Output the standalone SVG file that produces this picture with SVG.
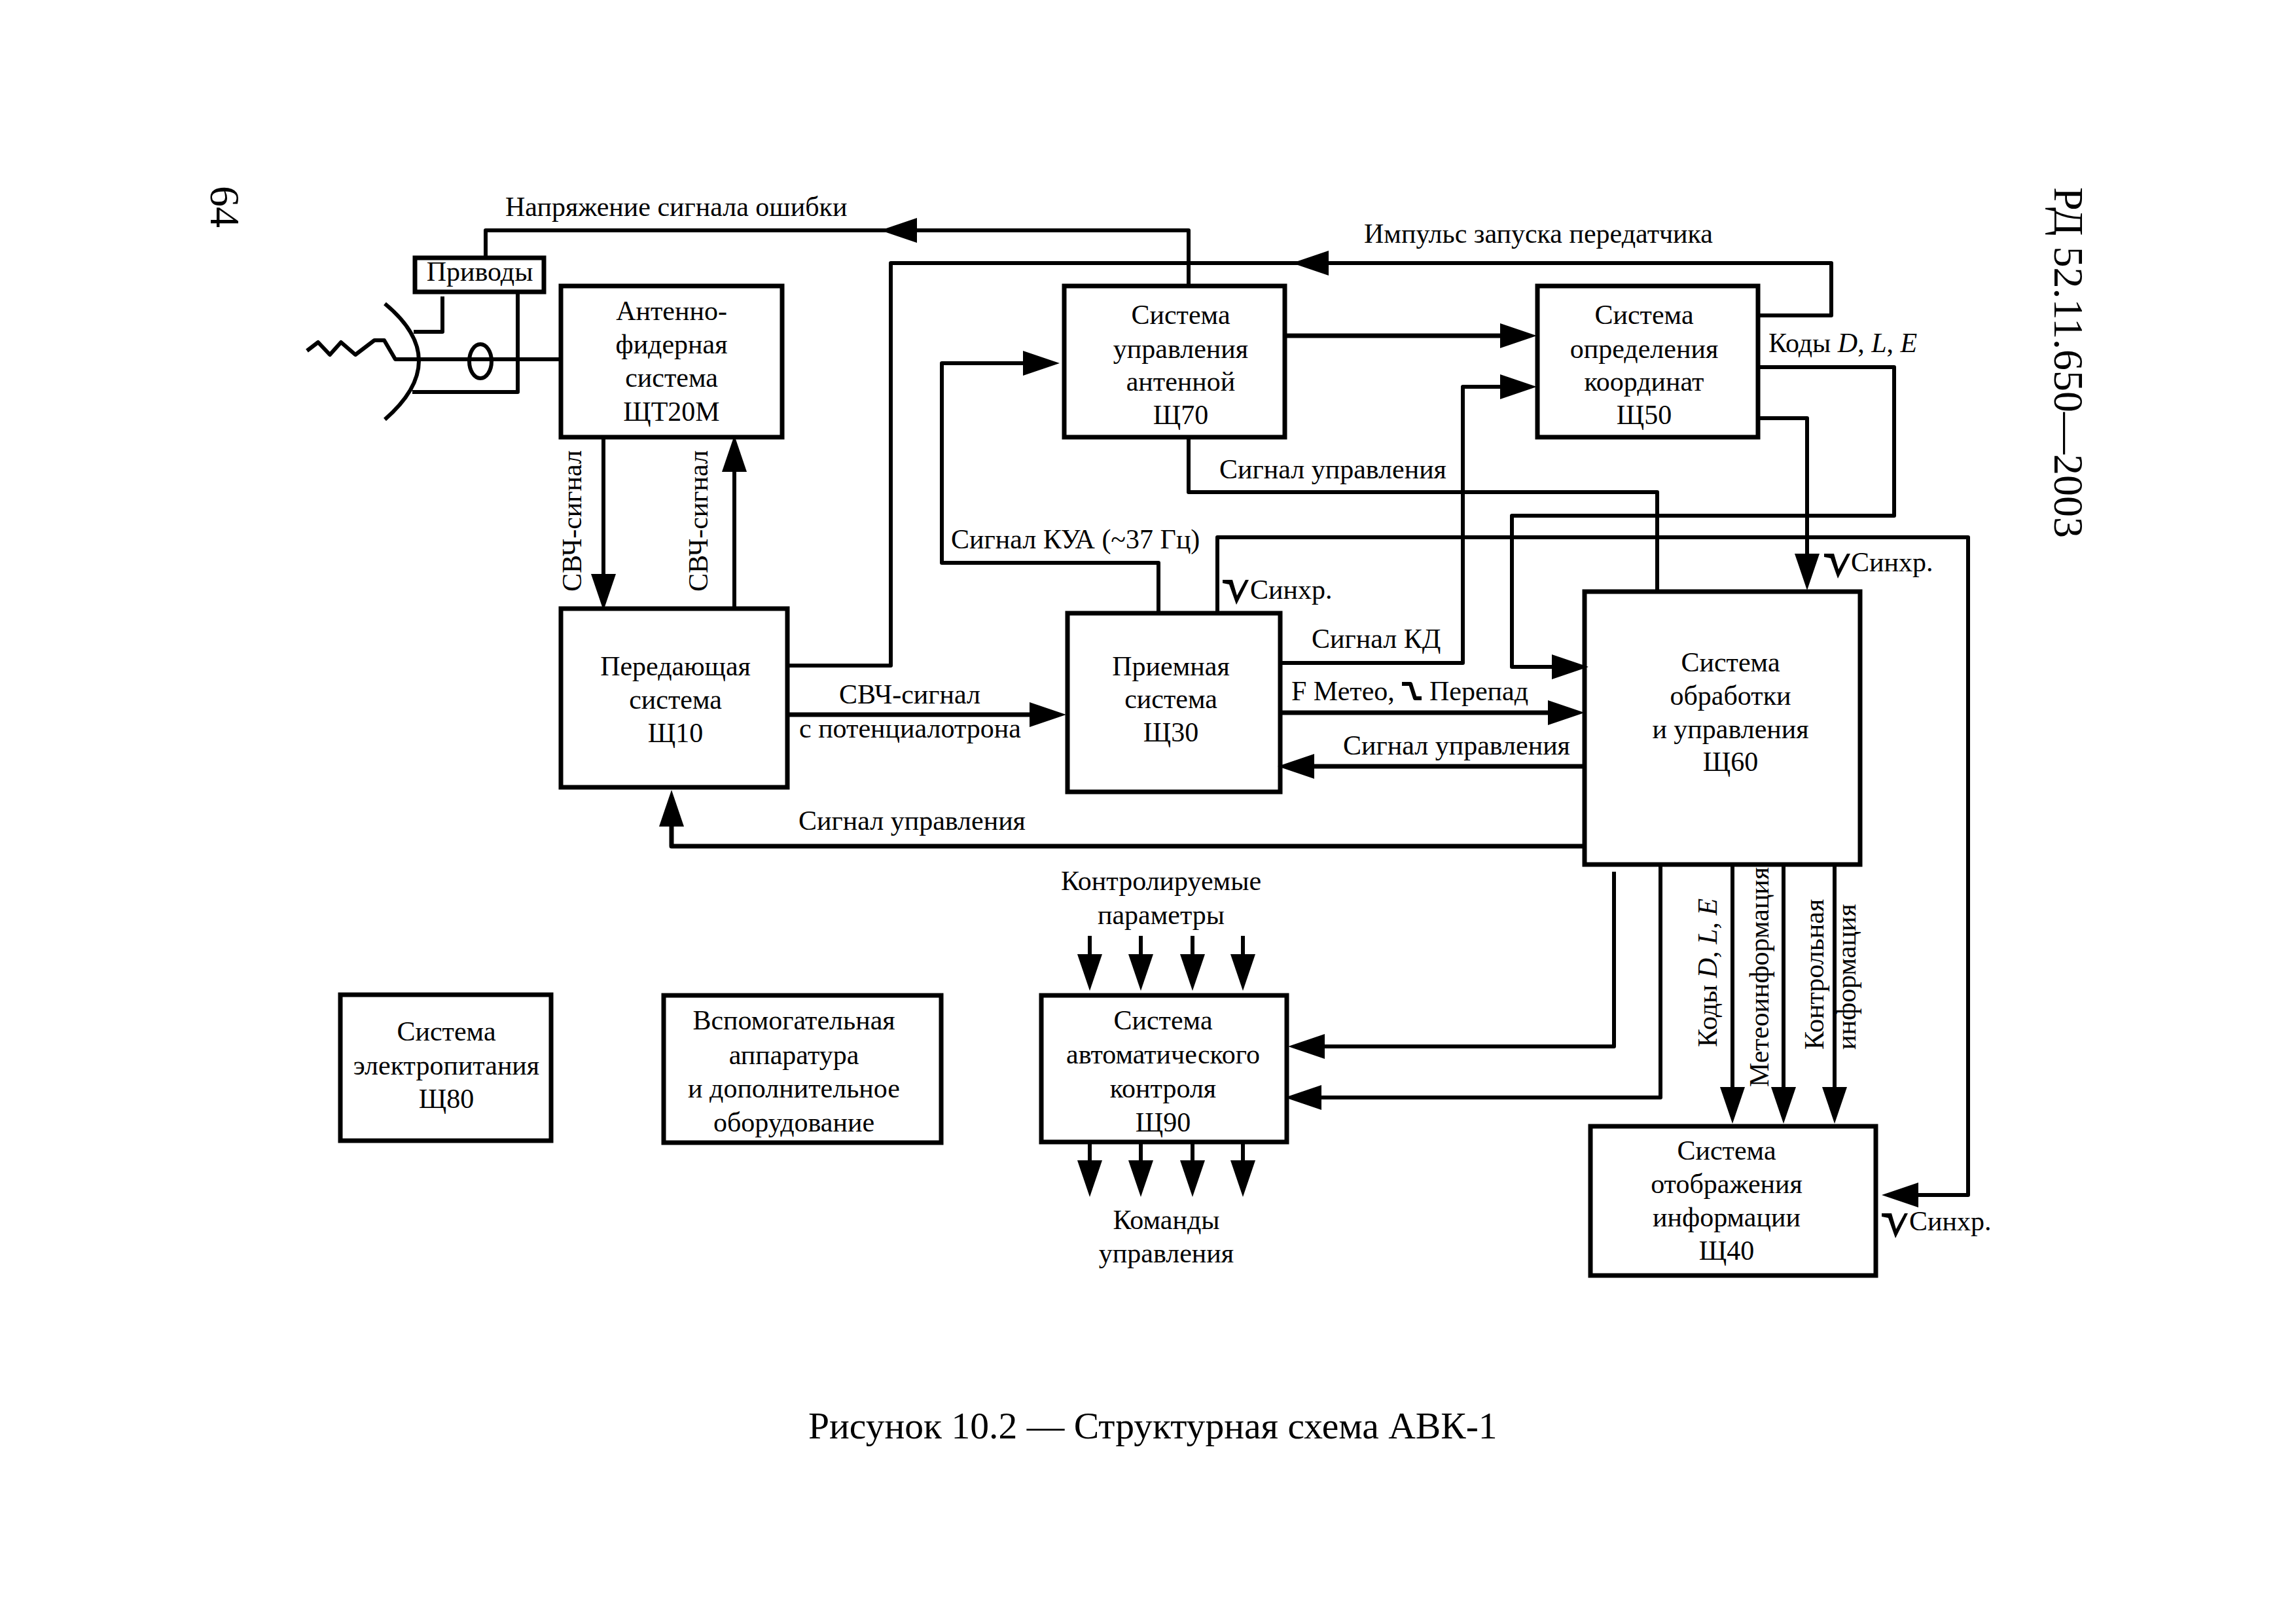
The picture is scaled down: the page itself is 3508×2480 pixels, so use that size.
<svg xmlns="http://www.w3.org/2000/svg" xmlns:xlink="http://www.w3.org/1999/xlink" width="3508" height="2480" viewBox="0 0 3508 2480">
<style>
text{font-family:"Liberation Serif","Times New Roman",serif;font-size:42px;fill:#000}
.c{text-anchor:middle}
.box{fill:none;stroke:#000;stroke-width:7}
.ln{fill:none;stroke:#000;stroke-width:6;stroke-linejoin:round}
.th{stroke-width:7}
.arr{marker-end:url(#ah)}
.big{font-size:64px}
.cap{font-size:57.6px}
.it{font-style:italic}
</style>
<defs>
<marker id="ah" markerUnits="userSpaceOnUse" markerWidth="58" markerHeight="40" refX="36" refY="20" orient="auto"><path d="M0 1 L56 20 L0 39Z" fill="#000"/></marker>
<path id="pulse" d="M0 0H15L22 24L35 0H40L21 38L10 7L0 5Z" fill="#000"/>
</defs>
<rect width="3508" height="2480" fill="#fff"/>
<g id="connectors">
<path class="ln arr" d="M1816 435V352H1365"/>
<path class="ln" d="M1365 352H742V392"/>
<path class="ln arr" d="M2688 482H2798V402H1994"/>
<path class="ln" d="M1994 402H1361V1017H1205"/>
<path class="ln arr th" d="M1965 513H2328"/>
<path class="ln arr" d="M1957 1013H2235V591H2328"/>
<path class="ln arr" d="M1770 935V860H1439V555H1599"/>
<path class="ln arr" d="M1860 935V821H3007V1826H2895"/>
<path class="ln" d="M1816 669V752H2532V902"/>
<path class="ln arr" d="M2688 561H2894V788H2310V1019H2407"/>
<path class="ln arr" d="M2688 639H2761V882"/>
<path class="ln arr th" d="M1957 1089H2401"/>
<path class="ln arr th" d="M2419 1171H1972"/>
<path class="ln arr th" d="M2419 1293H1026V1227"/>
<path class="ln arr th" d="M1205 1092H1609"/>
<path class="ln arr" d="M922 669V913"/>
<path class="ln arr" d="M1122 928V685"/>
<path class="ln arr" d="M2466 1332V1599H1988"/>
<path class="ln arr" d="M2537 1322V1677H1983"/>
<path class="ln arr" d="M2647 1322V1697"/>
<path class="ln arr" d="M2725 1322V1697"/>
<path class="ln arr" d="M2803 1322V1697"/>
<path class="ln arr" d="M1665 1430V1494"/>
<path class="ln arr" d="M1743 1430V1494"/>
<path class="ln arr" d="M1822 1430V1494"/>
<path class="ln arr" d="M1899 1430V1494"/>
<path class="ln arr" d="M1665 1745V1809"/>
<path class="ln arr" d="M1743 1745V1809"/>
<path class="ln arr" d="M1822 1745V1809"/>
<path class="ln arr" d="M1899 1745V1809"/>
</g>
<g id="antenna">
<path class="ln" d="M676 453V507H632"/>
<path class="ln" d="M791 447V599H630"/>
<path class="ln" d="M588 464Q692 550 588 641"/>
<path class="ln" d="M469 536L486 523L504 542L521 523L543 542L572 520H587L604 549H855"/>
<ellipse class="ln" cx="734" cy="552" rx="17" ry="26"/>
</g>
<g id="node-drives"><rect class="box" x="634" y="394" width="197" height="52"/><text class="c" x="733" y="429">Приводы</text></g>
<g id="node-schT20M"><rect class="box" x="857" y="437" width="338" height="231"/><text class="c" x="1026" y="489">Антенно-</text><text class="c" x="1026" y="540">фидерная</text><text class="c" x="1026" y="591">система</text><text class="c" x="1026" y="643">ЩТ20М</text></g>
<g id="node-sch70"><rect class="box" x="1626" y="437" width="337" height="231"/><text class="c" x="1804" y="495">Система</text><text class="c" x="1804" y="547">управления</text><text class="c" x="1804" y="597">антенной</text><text class="c" x="1804" y="648">Щ70</text></g>
<g id="node-sch50"><rect class="box" x="2349" y="437" width="337" height="231"/><text class="c" x="2512" y="495">Система</text><text class="c" x="2512" y="547">определения</text><text class="c" x="2512" y="597">координат</text><text class="c" x="2512" y="648">Щ50</text></g>
<g id="node-sch10"><rect class="box" x="857" y="930" width="346" height="273"/><text class="c" x="1032" y="1032">Передающая</text><text class="c" x="1032" y="1083">система</text><text class="c" x="1032" y="1134">Щ10</text></g>
<g id="node-sch30"><rect class="box" x="1631" y="937" width="325" height="273"/><text class="c" x="1789" y="1032">Приемная</text><text class="c" x="1789" y="1082">система</text><text class="c" x="1789" y="1133">Щ30</text></g>
<g id="node-sch60"><rect class="box" x="2421" y="904" width="421" height="417"/><text class="c" x="2644" y="1026">Система</text><text class="c" x="2644" y="1077">обработки</text><text class="c" x="2644" y="1128">и управления</text><text class="c" x="2644" y="1178">Щ60</text></g>
<g id="node-sch80"><rect class="box" x="520" y="1520" width="322" height="223"/><text class="c" x="682" y="1590">Система</text><text class="c" x="682" y="1642">электропитания</text><text class="c" x="682" y="1693">Щ80</text></g>
<g id="node-aux"><rect class="box" x="1014" y="1521" width="424" height="225"/><text class="c" x="1213" y="1573">Вспомогательная</text><text class="c" x="1213" y="1626">аппаратура</text><text class="c" x="1213" y="1677">и дополнительное</text><text class="c" x="1213" y="1729">оборудование</text></g>
<g id="node-sch90"><rect class="box" x="1591" y="1521" width="375" height="224"/><text class="c" x="1777" y="1573">Система</text><text class="c" x="1777" y="1625">автоматического</text><text class="c" x="1777" y="1677">контроля</text><text class="c" x="1777" y="1729">Щ90</text></g>
<g id="node-sch40"><rect class="box" x="2430" y="1721" width="436" height="228"/><text class="c" x="2638" y="1772">Система</text><text class="c" x="2638" y="1823">отображения</text><text class="c" x="2638" y="1874">информации</text><text class="c" x="2638" y="1925">Щ40</text></g>
<g id="labels">
<text x="772" y="330">Напряжение сигнала ошибки</text>
<text x="2084" y="371">Импульс запуска передатчика</text>
<text x="1863" y="731">Сигнал управления</text>
<text x="1453" y="838">Сигнал КУА (~37 Гц)</text>
<text x="2004" y="990">Сигнал КД</text>
<text x="1282" y="1075">СВЧ-сигнал</text>
<text x="1221" y="1127">с потенциалотрона</text>
<text x="1220" y="1268">Сигнал управления</text>
<text x="1973" y="1070">F Метео,</text>
<path class="ln" d="M2142 1045H2155L2162 1067H2172"/>
<text x="2184" y="1070">Перепад</text>
<text x="2052" y="1153">Сигнал управления</text>
<text x="2702" y="538">Коды <tspan class="it">D</tspan>, <tspan class="it">L</tspan>, <tspan class="it">E</tspan></text>
<use href="#pulse" xlink:href="#pulse" x="1868" y="886"/><text x="1910" y="915">Синхр.</text>
<use href="#pulse" xlink:href="#pulse" x="2787" y="846"/><text x="2828" y="873">Синхр.</text>
<use href="#pulse" xlink:href="#pulse" x="2875" y="1854"/><text x="2917" y="1880">Синхр.</text>
<text transform="translate(888 904) rotate(-90)">СВЧ-сигнал</text>
<text transform="translate(1081 904) rotate(-90)">СВЧ-сигнал</text>
<text transform="translate(2623 1600) rotate(-90)">Коды <tspan class="it">D</tspan>, <tspan class="it">L</tspan>, <tspan class="it">E</tspan></text>
<text transform="translate(2702 1661) rotate(-90)">Метеоинформация</text>
<text transform="translate(2786 1604) rotate(-90)">Контрольная</text>
<text transform="translate(2835 1604) rotate(-90)">информация</text>
<text class="c" x="1774" y="1360">Контролируемые</text>
<text class="c" x="1774" y="1412">параметры</text>
<text class="c" x="1782" y="1878">Команды</text>
<text class="c" x="1782" y="1929">управления</text>
<text class="big" transform="translate(3139 286) rotate(90)">РД 52.11.650—2003</text>
<text class="big" transform="translate(322 284) rotate(90)">64</text>
<text class="cap" x="1235" y="2198">Рисунок 10.2 — Структурная схема АВК-1</text>
</g>
</svg>
